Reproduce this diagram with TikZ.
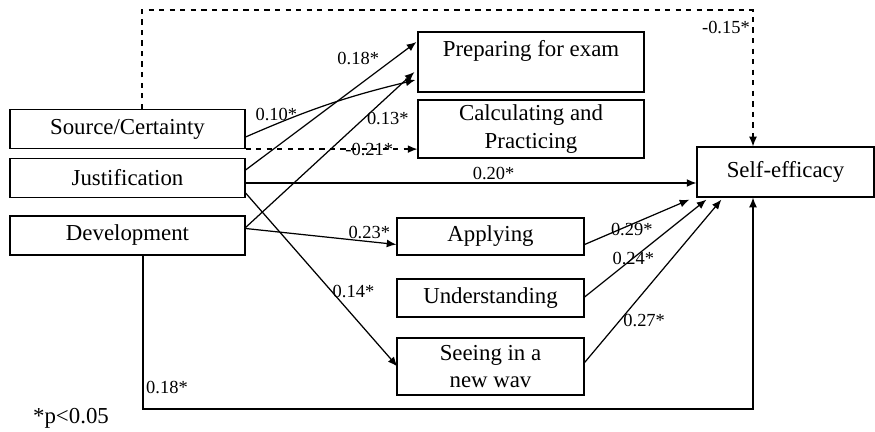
\documentclass[tikz,border=0pt]{standalone}
\usepackage{fontspec}
\setmainfont{Liberation Serif}
\usetikzlibrary{calc,positioning,arrows.meta}

\newcommand{\boxfont}{\fontsize{13}{15.5}\selectfont}
\newcommand{\coeffont}{\fontsize{10.5}{12}\selectfont}

\tikzset{
  box/.style={draw, line width=0.7pt, inner sep=2pt, align=center, font=\boxfont},
  coef/.style={font=\coeffont, inner sep=1.5pt},
  path/.style={draw, line width=0.7pt, -{Latex[length=5.5pt,width=4.5pt]}}
}

\begin{document}
\begin{tikzpicture}[x=0.02cm,y=-0.02cm]
\useasboundingbox (0,0) rectangle (875,432);

% epistemic beliefs
\def\epist{src/{Source/Certainty}/129,jus/{Justification}/178,dev/{Development}/235.5}
\foreach \n / \t / \y in \epist
  \node [box, minimum width=4.7cm, minimum height=0.78cm] (\n) at (127.5,\y) {\t};

% conceptions of learning
\node [box, minimum width=4.52cm, minimum height=1.2cm]  (prep) at (531,62)  {Preparing for exam\\\mbox{}};
\node [box, minimum width=4.52cm, minimum height=1.16cm] (calc) at (531,129) {Calculating and\\Practicing};
\node [box, minimum width=3.74cm, minimum height=0.74cm] (app)  at (490.5,236.5) {Applying};
\node [box, minimum width=3.74cm, minimum height=0.76cm] (und)  at (490.5,298)   {Understanding};
\node [box, minimum width=3.74cm, minimum height=1.14cm] (see)  at (490.5,366.5) {Seeing in a\\new wav};

\node [box, minimum width=3.54cm, minimum height=1.0cm] (self) at (785.5,172) {Self-efficacy};

\node [font=\boxfont, inner sep=0pt] (note) at (71,418) {*p<0.05};

\coordinate (dtop) at (753,10);
\coordinate (dbot) at (753,409);
\coordinate (jout) at ($(jus.east)+(0,5)$);

% paths
\draw [path, dashed] ([xshift=0.29cm]src.north) |- (dtop)
  -- node [coef, pos=0.13, left] {-0.15*} (dtop |- self.north);
\draw [path, dashed] (src.south east) -- node [coef, pos=0.72] {-0.21*} (src.south east -| calc.west);
\draw [path] ($(src.east)+(0,8)$) to [bend left=5] node [coef, pos=0.17, above] {0.10*} ($(prep.west)+(-2,18)$);
\draw [path] ($(jus.east)+(0,-8)$) -- node [coef, pos=0.8, above left] {0.18*} ($(prep.west)+(-1,-20)$);
\draw [path] ($(dev.east)+(0,-8)$) -- node [coef, pos=0.7, anchor=west] {0.13*} ($(prep.west)+(-3,10)$);
\draw [path] ($(dev.east)+(0,-7)$) -- node [coef, pos=0.82, above] {0.23*} ($(app.west)+(0,8)$);
\draw [path] ($(jus.east)+(0,15)$) -- node [coef, pos=0.57, anchor=west, inner sep=0pt] {0.14*} ($(see.west)+(1,0)$);
\draw [path] (jout) -- node [coef, pos=0.55, above] {0.20*} (jout -| self.west);
\draw [path] ($(app.east)+(0,8)$) -- node [coef, pos=0.45, yshift=-3pt] {0.29*} ($(self.south west)+(-7,2)$);
\draw [path] ($(und.east)+(0,-1)$) -- node [coef, pos=0.4] {0.24*} ($(self.south west)+(10,2)$);
\draw [path] ($(see.east)+(0,-4)$) -- node [coef, pos=0.26, right] {0.27*} ($(self.south west)+(25,2)$);
\draw [path] ([xshift=0.31cm]dev.south) |- node [coef, pos=0.43, right] {0.18*} (dbot) -- (dbot |- self.south);

\end{tikzpicture}
\end{document}
